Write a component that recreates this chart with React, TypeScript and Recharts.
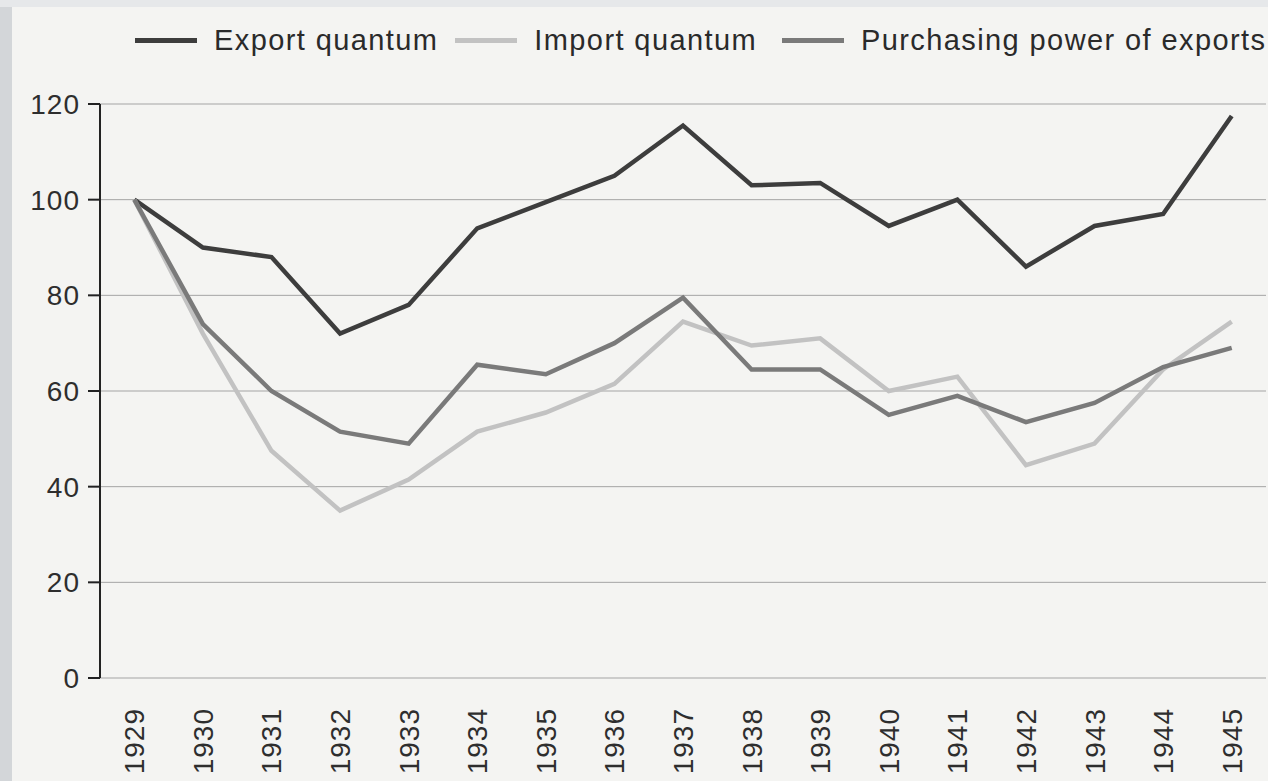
import { LineChart, Line, XAxis, YAxis, CartesianGrid, Legend } from 'recharts'

const years = [1929, 1930, 1931, 1932, 1933, 1934, 1935, 1936, 1937, 1938, 1939, 1940, 1941, 1942, 1943, 1944, 1945]
const exportQuantum = [100, 90, 88, 72, 78, 94, 99.5, 105, 115.5, 103, 103.5, 94.5, 100, 86, 94.5, 97, 117.5]
const importQuantum = [100, 72, 47.5, 35, 41.5, 51.5, 55.5, 61.5, 74.5, 69.5, 71, 60, 63, 44.5, 49, 64.5, 74.5]
const purchasingPower = [100, 74, 60, 51.5, 49, 65.5, 63.5, 70, 79.5, 64.5, 64.5, 55, 59, 53.5, 57.5, 65, 69]
const yTicks = [0, 20, 40, 60, 80, 100, 120]

const data = years.map((year, i) => ({
  year,
  exportQ: exportQuantum[i],
  importQ: importQuantum[i],
  purchasing: purchasingPower[i],
}))

// tick marks sit between the years
const boundaries = [...years.map((y) => y - 0.5), years[years.length - 1] + 0.5]
const xDomain = [boundaries[0], boundaries[boundaries.length - 1]]

const series = [
  { key: 'exportQ', name: 'Export quantum', color: '#3d3d3d', gap: 17 },
  { key: 'importQ', name: 'Import quantum', color: '#c2c2c2', gap: 25 },
  { key: 'purchasing', name: 'Purchasing power of exports', color: '#7a7a7a', gap: 0 },
]

const font = 'Arial, "Liberation Sans", Helvetica, sans-serif'

function YearTick({ x, y, payload }: any) {
  return (
    <text
      x={x}
      y={y}
      transform={`rotate(-90, ${x}, ${y})`}
      textAnchor="end"
      dy={10}
      dx={-22}
      fontSize={28}
      letterSpacing={1}
      fill="#2e2e2e"
      fontFamily={font}
    >
      {payload.value}
    </text>
  )
}

function LegendContent() {
  return (
    <div
      style={{
        display: 'flex',
        alignItems: 'center',
        height: 28,
        fontFamily: font,
        fontSize: 29,
        letterSpacing: 1.4,
        color: '#2a2a2a',
        paddingLeft: 135,
        whiteSpace: 'nowrap',
      }}
    >
      {series.map((s) => (
        <div key={s.key} style={{ display: 'flex', alignItems: 'center', marginRight: s.gap }}>
          <div style={{ width: 62, height: 5, background: s.color, marginRight: 17 }} />
          <span>{s.name}</span>
        </div>
      ))}
    </div>
  )
}

export default function App() {
  return (
    <div style={{ position: 'fixed', left: 0, top: 0, width: 1268, height: 781, background: '#f4f4f2', overflow: 'hidden' }}>
      <div style={{ position: 'absolute', left: 0, top: 0, width: 12, height: 781, background: '#d3d6d9' }} />
      <div style={{ position: 'absolute', left: 0, top: 0, width: 1268, height: 7, background: '#e6e8ea' }} />
      <LineChart
        width={1268}
        height={781}
        data={data}
        margin={{ top: 76, right: 2, bottom: 0, left: 0 }}
        style={{ position: 'absolute', left: 0, top: 0 }}
      >
        <CartesianGrid vertical={false} stroke="#a4a4a4" strokeWidth={1} />
        <XAxis
          xAxisId="marks"
          type="number"
          dataKey="year"
          domain={xDomain}
          ticks={boundaries}
          tick={false}
          tickSize={9}
          height={0}
          axisLine={{ stroke: '#222', strokeWidth: 2 }}
          tickLine={{ stroke: '#222', strokeWidth: 2 }}
        />
        <XAxis
          xAxisId="years"
          type="number"
          dataKey="year"
          domain={xDomain}
          ticks={years}
          interval={0}
          axisLine={false}
          tickLine={false}
          height={103}
          tick={<YearTick />}
        />
        <YAxis
          domain={[0, 120]}
          ticks={yTicks}
          width={100}
          tickSize={12}
          tickMargin={8}
          axisLine={{ stroke: '#222', strokeWidth: 2 }}
          tickLine={{ stroke: '#222', strokeWidth: 2 }}
          tick={{ fontSize: 28, letterSpacing: 1, fill: '#2e2e2e', fontFamily: font }}
        />
        <Legend verticalAlign="top" content={<LegendContent />} wrapperStyle={{ top: 26, left: 0 }} />
        {series.map((s) => (
          <Line
            key={s.key}
            xAxisId="years"
            type="linear"
            dataKey={s.key}
            name={s.name}
            stroke={s.color}
            strokeWidth={4.5}
            dot={false}
            isAnimationActive={false}
          />
        ))}
      </LineChart>
    </div>
  )
}
